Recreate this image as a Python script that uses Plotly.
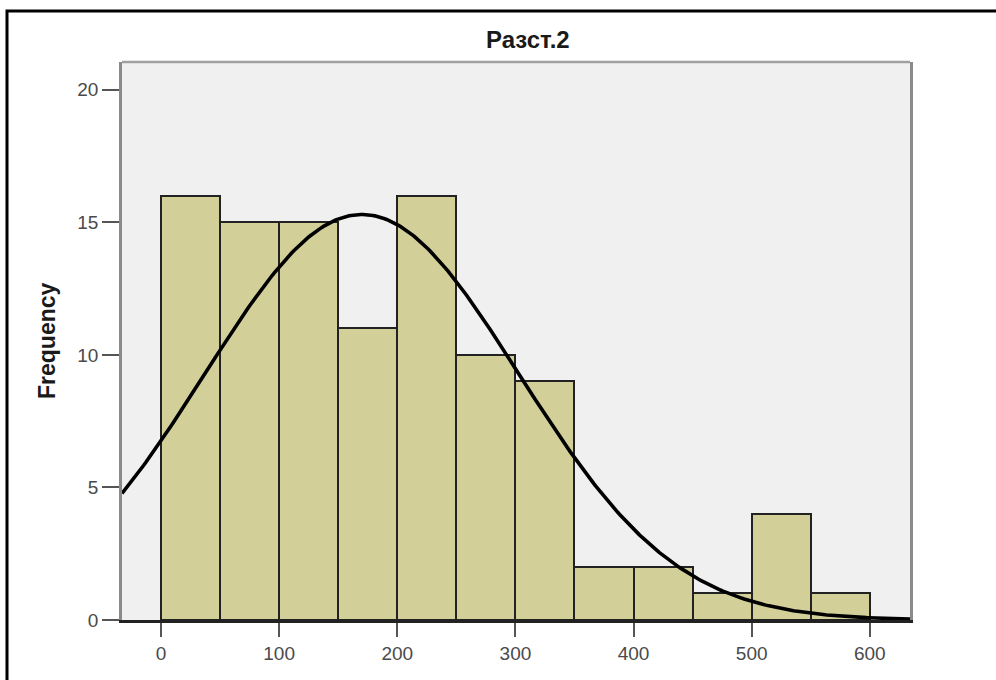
import numpy as np
import plotly.graph_objects as go

# Histogram data (bin start, counts)
bin_starts = [0, 50, 100, 150, 200, 250, 300, 350, 400, 450, 500, 550]
counts = [16, 15, 15, 11, 16, 10, 9, 2, 2, 1, 4, 1]
bin_width = 50

# Normal curve parameters
curve_mean = 170
curve_sd = 133

x_ticks = [0, 100, 200, 300, 400, 500, 600]
y_ticks = [0, 5, 10, 15, 20]

title_text = "Разст.2"
y_title = "Frequency"

x_range = [-33, 634]
y_range = [0, 21.05]

# plot area in pixels
L, R, T, B = 122, 910, 62, 620
W, H = 996, 680
pw, ph = R - L, B - T

def px_x(px):
    return (px - L) / pw

def px_y(py):
    return (B - py) / ph

centers = [s + bin_width / 2 for s in bin_starts]
n_total = sum(counts)
xs = np.linspace(x_range[0], x_range[1], 400)
ys = n_total * bin_width / (curve_sd * np.sqrt(2 * np.pi)) * np.exp(-0.5 * ((xs - curve_mean) / curve_sd) ** 2)

fig = go.Figure()
fig.add_trace(go.Bar(
    x=centers, y=counts, width=[bin_width] * len(counts),
    marker=dict(color="#D3CF99", line=dict(color="#222222", width=2)),
    hoverinfo="x+y", showlegend=False,
))
fig.add_trace(go.Scatter(
    x=xs, y=ys, mode="lines", line=dict(color="#000000", width=3.6),
    showlegend=False, hoverinfo="skip",
))

fig.update_layout(
    width=W, height=H,
    margin=dict(l=L, r=W - R, t=T, b=H - B),
    paper_bgcolor="white", plot_bgcolor="#F0F0F0",
    font=dict(family="Liberation Sans, Arial, sans-serif", color="#4A4A4A", size=19),
    bargap=0,
    xaxis=dict(range=x_range, tickvals=x_ticks, ticktext=[str(v) for v in x_ticks],
               showgrid=False, zeroline=False, showline=True, linecolor="#222222", linewidth=2.5,
               ticks="outside", ticklen=14, tickwidth=2, tickcolor="#555555",
               tickfont=dict(size=19, color="#4A4A4A")),
    yaxis=dict(range=y_range, tickvals=y_ticks, ticktext=[str(v) for v in y_ticks],
               showgrid=False, zeroline=False, showline=True, linecolor="#8A8A8A", linewidth=2.5,
               mirror=True,
               ticks="outside", ticklen=17, tickwidth=2, tickcolor="#555555",
               tickfont=dict(size=19, color="#4A4A4A")),
    annotations=[
        dict(text="<b>" + title_text + "</b>", xref="paper", yref="paper",
             x=px_x(528), y=px_y(40), xanchor="center", yanchor="middle",
             showarrow=False, font=dict(size=24, color="#1A1A1A")),
        dict(text="<b>" + y_title + "</b>", xref="paper", yref="paper",
             x=px_x(47), y=px_y(341), xanchor="center", yanchor="middle",
             textangle=-90, showarrow=False, font=dict(size=23, color="#1A1A1A")),
    ],
    shapes=[
        # top frame line of plot area
        dict(type="line", xref="paper", yref="paper", x0=0, x1=1, y0=1, y1=1,
             line=dict(color="#A0A0A0", width=2.5), layer="above"),
        # outer image border (left and top visible)
        dict(type="rect", xref="paper", yref="paper",
             x0=px_x(7), x1=px_x(1005), y0=px_y(695), y1=px_y(11),
             line=dict(color="#000000", width=3), fillcolor="rgba(0,0,0,0)", layer="above"),
    ],
)

fig.write_html("out.html")
